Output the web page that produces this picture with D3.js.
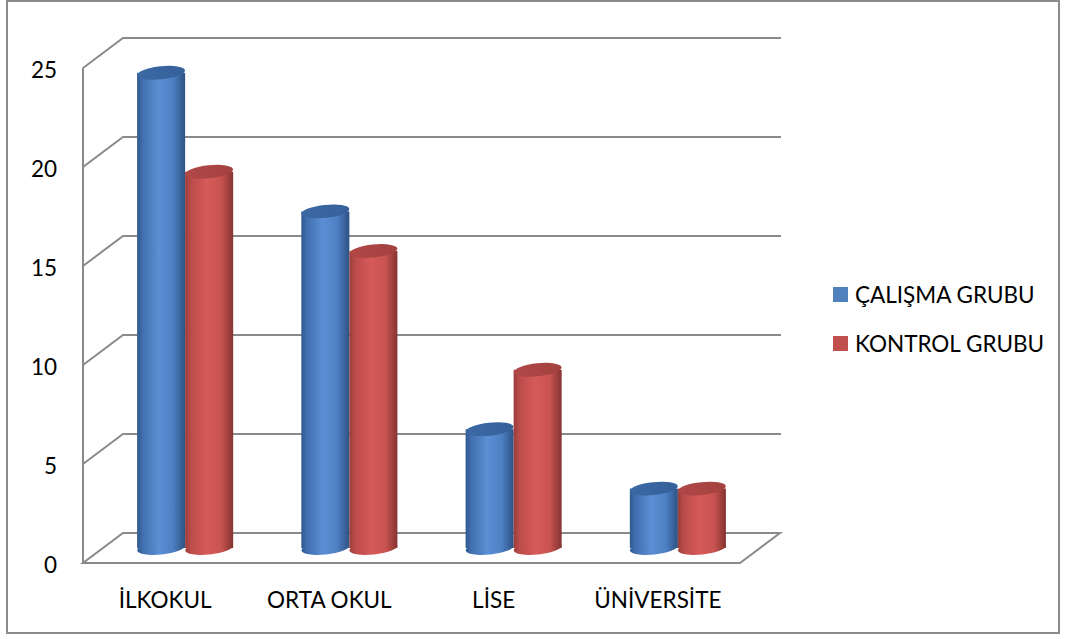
<!DOCTYPE html>
<html>
<head>
<meta charset="utf-8">
<script src="https://cdn.jsdelivr.net/npm/d3@7"></script>
<style>
  body { margin: 0; background: #fff; }
  svg { display: block; font-family: Lato, "Open Sans", sans-serif; }
</style>
</head>
<body>
<svg id="container"></svg>
<script>
// values
const categories = ["İLKOKUL", "ORTA OKUL", "LİSE", "ÜNİVERSİTE"];
const calisma = [24, 17, 6, 3];
const kontrol = [19, 15, 9, 3];
const seriesNames = ["ÇALIŞMA GRUBU", "KONTROL GRUBU"];
const yTicks = [0, 5, 10, 15, 20, 25];

const width = 1070, height = 639;
const depthX = 40, depthY = -30;   // back wall offset

const svg = d3.select("#container")
    .attr("width", width)
    .attr("height", height);

const defs = svg.append("defs");

// horizontal shading for the cylinders
function cylGrad(id, stops) {
    const g = defs.append("linearGradient").attr("id", id)
        .attr("x1", "0%").attr("x2", "100%").attr("y1", "0%").attr("y2", "0%");
    stops.forEach(s => g.append("stop").attr("offset", s[0]).attr("stop-color", s[1]));
}
cylGrad("blueBody", [["0%", "#2f5a8e"], ["12%", "#416fb0"], ["45%", "#5b8fd3"], ["75%", "#4d7fc3"], ["100%", "#2e5283"]]);
cylGrad("redBody", [["0%", "#9a3d3b"], ["12%", "#bb4c4a"], ["45%", "#d65a59"], ["75%", "#c85350"], ["100%", "#853330"]]);
cylGrad("blueTop", [["0%", "#3b69a4"], ["100%", "#36609a"]]);
cylGrad("redTop", [["0%", "#b04846"], ["100%", "#a34240"]]);

const colors = [
    {body: "url(#blueBody)", top: "url(#blueTop)", legend: "#4f81bd"},
    {body: "url(#redBody)", top: "url(#redTop)", legend: "#c0504d"}
];

// outer frame
svg.append("rect")
    .attr("x", 7).attr("y", 1)
    .attr("width", 1052).attr("height", 632)
    .attr("fill", "none")
    .attr("stroke", "#8c8c8c")
    .attr("stroke-width", 2);

// scales on the front plane
const y = d3.scaleLinear().domain([0, 25]).range([563, 68]);
const x0 = d3.scaleBand().domain(categories).range([83, 740]);
const x1 = d3.scaleBand().domain(seriesNames)
    .range([0, x0.bandwidth()]).paddingInner(0).paddingOuter(0.71);

const grid = svg.append("g")
    .attr("fill", "none")
    .attr("stroke", "#8a8a8a")
    .attr("stroke-width", 2);

// left wall edge
grid.append("line")
    .attr("x1", 83).attr("x2", 83)
    .attr("y1", y(25)).attr("y2", y(0));

// gridlines: diagonal on the side wall, then across the back wall
grid.selectAll("path.gl")
    .data(yTicks.filter(d => d > 0))
    .join("path")
    .attr("class", "gl")
    .attr("d", d => `M83,${y(d)}L${83 + depthX},${y(d) + depthY}L781,${y(d) + depthY}`);

// floor
const fx0 = x0.range()[0], fx1 = x0.range()[1];
grid.append("path")
    .attr("d", `M${fx0},${y(0)}L${fx1},${y(0)}L${fx1 + depthX},${y(0) + depthY}L${fx0 + depthX},${y(0) + depthY}Z`);

// cylinders, set at half depth
const ry = 6.5, tilt = -6;
const rows = categories.map((c, i) => [
    {cat: c, s: seriesNames[0], v: calisma[i], k: 0},
    {cat: c, s: seriesNames[1], v: kontrol[i], k: 1}
]).flat();

const cyl = svg.append("g").selectAll("g")
    .data(rows)
    .join("g")
    .attr("transform", d => `translate(${x0(d.cat) + x1(d.s) + depthX / 2},${depthY / 2})`);

const w = x1.bandwidth();
cyl.append("ellipse")
    .attr("cx", w / 2).attr("cy", y(0))
    .attr("rx", w / 2).attr("ry", ry)
    .attr("transform", `rotate(${tilt},${w / 2},${y(0)})`)
    .attr("fill", d => colors[d.k].body);
cyl.append("rect")
    .attr("x", 0).attr("y", d => y(d.v))
    .attr("width", w).attr("height", d => y(0) - y(d.v))
    .attr("fill", d => colors[d.k].body);
cyl.append("ellipse")
    .attr("cx", w / 2).attr("cy", d => y(d.v))
    .attr("rx", w / 2).attr("ry", ry)
    .attr("transform", d => `rotate(${tilt},${w / 2},${y(d.v)})`)
    .attr("fill", d => colors[d.k].top);

// y tick labels
svg.append("g").selectAll("text")
    .data(yTicks)
    .join("text")
    .attr("x", 57).attr("y", d => y(d) + 2)
    .attr("dy", "0.35em")
    .attr("text-anchor", "end")
    .attr("font-size", 22.5)
    .attr("fill", "#000")
    .text(d => d);

// category labels
svg.append("g").selectAll("text")
    .data(categories)
    .join("text")
    .attr("x", d => x0(d) + x0.bandwidth() / 2)
    .attr("y", 608)
    .attr("text-anchor", "middle")
    .attr("font-size", 22.5)
    .attr("fill", "#000")
    .text(d => d);

// legend
const legend = svg.append("g").selectAll("g")
    .data(seriesNames)
    .join("g")
    .attr("transform", (d, i) => `translate(833,${287 + i * 49})`);
legend.append("rect")
    .attr("width", 15).attr("height", 15)
    .attr("fill", (d, i) => colors[i].legend);
legend.append("text")
    .attr("x", 22).attr("y", 16)
    .attr("font-size", 22.5)
    .attr("fill", "#000")
    .text(d => d);
</script>
</body>
</html>
